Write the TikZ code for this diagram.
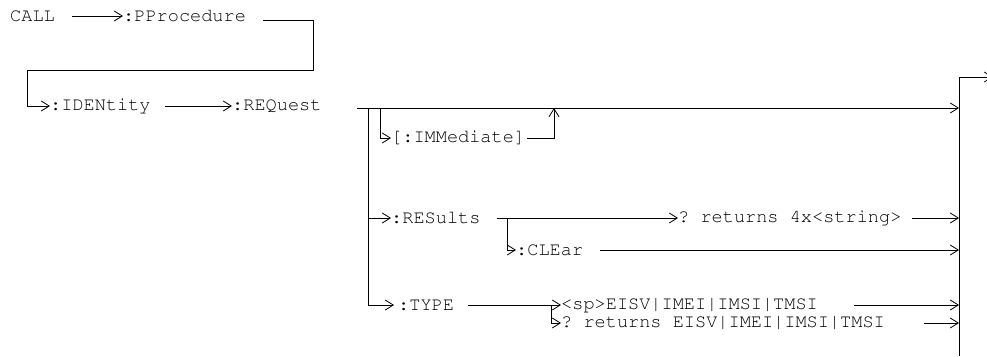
\documentclass[tikz,border=0pt]{standalone}
\usepackage[T1]{fontenc}
\renewcommand\ttdefault{pcr}
\usetikzlibrary{arrows.meta}
\begin{document}
\frenchspacing
\begin{tikzpicture}[x=1pt,y=-1pt,
  lbl/.style={anchor=west,inner sep=0pt,font=\ttfamily\frenchspacing\fontsize{18.6}{20}\selectfont},
  conn/.style={line width=0.9pt},
  arr/.style={conn,-{Straight Barb[length=8pt,width=10pt,line width=0.8pt]}}]
\clip (0,0) rectangle (987,356);
% labels
\node[lbl] (call) at (10,16) {CALL};
\node[lbl] (ppro) at (123,16) {:PProcedure};
\node[lbl] (iden) at (50,106) {:IDENtity};
\node[lbl] (req) at (232,106) {:REQuest};
\node[lbl] (imm) at (391,138) {[:IMMediate]};
\node[lbl] (res) at (391,218) {:RESults};
\node[lbl] (ret4) at (678,218) {? returns 4x<string>};
\node[lbl] (clr) at (516,250) {:CLEar};
\node[lbl] (type) at (398,305) {:TYPE};
\node[lbl] (sp) at (561,305) {<sp>EISV|IMEI|IMSI|TMSI};
\node[lbl] (rete) at (561,323) {? returns EISV|IMEI|IMSI|TMSI};
% junction coordinates
\coordinate (p0) at (263,20);
\coordinate (p1) at (313,70);
\coordinate (p2) at (27,70);
\coordinate (m0) at (357,108);
\coordinate (v0) at (368,108);
\coordinate (b0) at (380,108);
\coordinate (up) at (554,108);
\coordinate (barmain) at (959,108);
\coordinate (bartop) at (959,77);
\coordinate (barbot) at (959,356);
\coordinate (out) at (993,77);
\coordinate (vres) at (368,218);
\coordinate (rb) at (507,218);
\coordinate (vtype) at (368,305);
\coordinate (tb) at (551,305);
% connectors
\draw[arr] ([xshift=17pt]call.east) -- (ppro.west);
\draw[arr] (p0) -| (p1) -- (p2) |- (iden.west);
\draw[arr] ([xshift=14pt]iden.east) -- (req.west);
\draw[arr] (m0) -- (barmain);
\draw[conn] (bartop) -- (barbot);
\draw[arr] (bartop) -- (out);
\draw[arr] (b0) |- (imm.west);
\draw[arr] ([xshift=2pt]imm.east) -| (up);
\draw[conn] (v0) -- (vtype);
\draw[arr] (vres) -- (res.west);
\draw[arr] ([xshift=16pt]res.east) -- (ret4.west);
\draw[arr] ([xshift=10pt]ret4.east) -- (ret4.east -| barmain);
\draw[arr] (rb) |- (clr.west);
\draw[arr] ([xshift=17pt]clr.east) -- (clr.east -| barmain);
\draw[arr] (vtype) -- ([xshift=-4pt]type.west);
\draw[arr] ([xshift=14pt]type.east) -- (sp.west);
\draw[arr] (tb) |- (rete.west);
\draw[arr] ([xshift=36pt]sp.east) -- (sp.east -| barmain);
\draw[arr] ([xshift=39pt]rete.east) -- (rete.east -| barmain);
\end{tikzpicture}
\end{document}
